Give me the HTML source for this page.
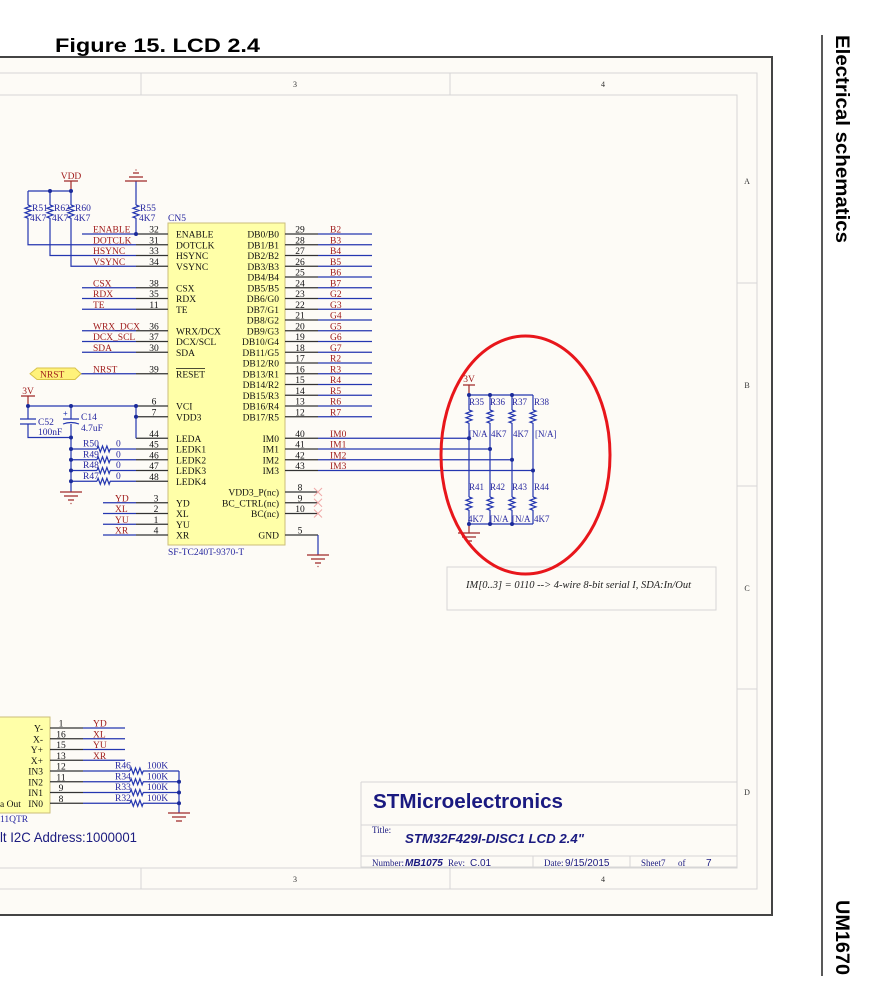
<!DOCTYPE html>
<html><head><meta charset="utf-8"><style>
html,body{margin:0;padding:0;background:#fff;}
svg{display:block;}
.w{stroke:#2436b0;stroke-width:1.2;fill:none;}
.p{stroke:#333;stroke-width:1.2;fill:none;}
.g{stroke:#a02828;stroke-width:1.2;fill:none;}
.z{stroke:#d6d6d6;stroke-width:1;fill:none;}
.t{font-family:"Liberation Serif",serif;font-size:9.5px;fill:#111;}
.n{font-family:"Liberation Serif",serif;font-size:9.5px;fill:#a01c1c;}
.b{font-family:"Liberation Serif",serif;font-size:9.5px;fill:#2828a0;}
.s{font-family:"Liberation Serif",serif;font-size:8px;fill:#333;}
</style></head><body>
<svg width="887" height="999" viewBox="0 0 887 999" xmlns="http://www.w3.org/2000/svg">
<rect x="0" y="0" width="887" height="999" fill="#fff"/>
<!-- header -->
<text x="55" y="52" font-family="Liberation Sans, sans-serif" font-weight="bold" font-size="19" textLength="205" lengthAdjust="spacingAndGlyphs">Figure 15. LCD 2.4</text>
<line x1="822" y1="35" x2="822" y2="976" stroke="#222" stroke-width="1.5"/>
<text transform="translate(836,35) rotate(90)" font-family="Liberation Sans, sans-serif" font-weight="bold" font-size="19" textLength="208" lengthAdjust="spacingAndGlyphs">Electrical schematics</text>
<text transform="translate(836,900) rotate(90)" font-family="Liberation Sans, sans-serif" font-weight="bold" font-size="19" textLength="75" lengthAdjust="spacingAndGlyphs">UM1670</text>

<!-- frame -->
<rect x="-5" y="57" width="777" height="858" fill="#fdfbf6" stroke="#444" stroke-width="2"/>
<path class="z" d="M0,73H757V889H0 M0,95H737V868H0 M141,73V95 M450,73V95 M141,868V889 M450,868V889 M737,283H757 M737,486H757 M737,689H757"/>
<text class="s" x="295" y="87" text-anchor="middle">3</text>
<text class="s" x="603" y="87" text-anchor="middle">4</text>
<text class="s" x="295" y="882" text-anchor="middle">3</text>
<text class="s" x="603" y="882" text-anchor="middle">4</text>
<text class="s" x="747" y="184" text-anchor="middle">A</text>
<text class="s" x="747" y="388" text-anchor="middle">B</text>
<text class="s" x="747" y="591" text-anchor="middle">C</text>
<text class="s" x="747" y="795" text-anchor="middle">D</text>

<!-- title block -->
<path class="z" d="M361,782H737 M361,782V867H737 M361,825H737 M361,856H737 M533,856V867 M630,856V867"/>
<text x="373" y="808" font-family="Liberation Sans, sans-serif" font-weight="bold" font-size="20" fill="#1a1a80" textLength="190" lengthAdjust="spacingAndGlyphs">STMicroelectronics</text>
<text x="372" y="833" font-family="Liberation Serif, serif" font-size="9" fill="#1a1a80">Title:</text>
<text x="405" y="843" font-family="Liberation Sans, sans-serif" font-weight="bold" font-style="italic" font-size="13" fill="#1a1a80" textLength="179" lengthAdjust="spacingAndGlyphs">STM32F429I-DISC1 LCD 2.4"</text>
<g font-size="9" fill="#1a1a80">
<text x="372" y="866" font-family="Liberation Serif, serif">Number:</text>
<text x="405" y="866" font-family="Liberation Sans, sans-serif" font-weight="bold" font-style="italic" font-size="10">MB1075</text>
<text x="448" y="866" font-family="Liberation Serif, serif">Rev:</text>
<text x="470" y="866" font-family="Liberation Sans, sans-serif" font-size="10">C.01</text>
<text x="544" y="866" font-family="Liberation Serif, serif">Date:</text>
<text x="565" y="866" font-family="Liberation Sans, sans-serif" font-size="10">9/15/2015</text>
<text x="641" y="866" font-family="Liberation Serif, serif">Sheet7</text>
<text x="678" y="866" font-family="Liberation Serif, serif">of</text>
<text x="706" y="866" font-family="Liberation Sans, sans-serif" font-size="10">7</text>
</g>

<!-- note box -->
<rect x="447" y="567" width="269" height="43" fill="none" stroke="#d6d6d6"/>
<text x="466" y="588" font-family="Liberation Serif, serif" font-style="italic" font-size="11" fill="#222" textLength="225" lengthAdjust="spacingAndGlyphs">IM[0..3] = 0110 --&gt; 4-wire 8-bit serial I, SDA:In/Out</text>

<!-- CN5 body -->
<rect x="168" y="223" width="117" height="322" fill="#ffffa8" stroke="#cbbd7a"/>
<text class="b" x="168" y="221">CN5</text>
<text class="b" x="168" y="555">SF-TC240T-9370-T</text>

<!-- left pin lines -->
<path class="p" d="M136,234H168 M136,244.75H168 M136,255.5H168 M136,266.25H168 M136,287.75H168 M136,298.5H168 M136,309.25H168 M136,330.75H168 M136,341.5H168 M136,352.25H168 M136,373.75H168 M136,406H168 M136,416.75H168 M136,438.25H168 M136,449H168 M136,459.75H168 M136,470.5H168 M136,481.25H168 M136,502.75H168 M136,513.5H168 M136,524.25H168 M136,535H168"/>
<!-- right pin lines -->
<path class="p" d="M285,234H318 M285,244.75H318 M285,255.5H318 M285,266.25H318 M285,277H318 M285,287.75H318 M285,298.5H318 M285,309.25H318 M285,320H318 M285,330.75H318 M285,341.5H318 M285,352.25H318 M285,363H318 M285,373.75H318 M285,384.5H318 M285,395.25H318 M285,406H318 M285,416.75H318 M285,438.25H318 M285,449H318 M285,459.75H318 M285,470.5H318 M285,492H318 M285,502.75H318 M285,513.5H318 M285,535H318"/>

<!-- left pin numbers -->
<g class="t" text-anchor="middle">
<text x="154" y="232.5">32</text><text x="154" y="243.25">31</text><text x="154" y="254">33</text><text x="154" y="264.75">34</text>
<text x="154" y="286.25">38</text><text x="154" y="297">35</text><text x="154" y="307.75">11</text>
<text x="154" y="329.25">36</text><text x="154" y="340">37</text><text x="154" y="350.75">30</text>
<text x="154" y="372.25">39</text>
<text x="154" y="404.5">6</text><text x="154" y="415.25">7</text>
<text x="154" y="436.75">44</text><text x="154" y="447.5">45</text><text x="154" y="458.25">46</text><text x="154" y="469">47</text><text x="154" y="479.75">48</text>
<text x="156" y="501.25">3</text><text x="156" y="512">2</text><text x="156" y="522.75">1</text><text x="156" y="533.5">4</text>
</g>
<!-- left pin names -->
<g class="t">
<text x="176" y="237.5">ENABLE</text><text x="176" y="248.25">DOTCLK</text><text x="176" y="259">HSYNC</text><text x="176" y="269.75">VSYNC</text>
<text x="176" y="291.25">CSX</text><text x="176" y="302">RDX</text><text x="176" y="312.75">TE</text>
<text x="176" y="334.25">WRX/DCX</text><text x="176" y="345">DCX/SCL</text><text x="176" y="355.75">SDA</text>
<text x="176" y="377.25">RESET</text>
<text x="176" y="409.5">VCI</text><text x="176" y="420.25">VDD3</text>
<text x="176" y="441.75">LEDA</text><text x="176" y="452.5">LEDK1</text><text x="176" y="463.25">LEDK2</text><text x="176" y="474">LEDK3</text><text x="176" y="484.75">LEDK4</text>
<text x="176" y="506.25">YD</text><text x="176" y="517">XL</text><text x="176" y="527.75">YU</text><text x="176" y="538.5">XR</text>
</g>
<line x1="176" y1="368.5" x2="205" y2="368.5" stroke="#111" stroke-width="0.8"/>
<!-- right pin names -->
<g class="t" text-anchor="end">
<text x="279" y="237.5">DB0/B0</text><text x="279" y="248.25">DB1/B1</text><text x="279" y="259">DB2/B2</text><text x="279" y="269.75">DB3/B3</text>
<text x="279" y="280.5">DB4/B4</text><text x="279" y="291.25">DB5/B5</text><text x="279" y="302">DB6/G0</text><text x="279" y="312.75">DB7/G1</text>
<text x="279" y="323.5">DB8/G2</text><text x="279" y="334.25">DB9/G3</text><text x="279" y="345">DB10/G4</text><text x="279" y="355.75">DB11/G5</text>
<text x="279" y="366.5">DB12/R0</text><text x="279" y="377.25">DB13/R1</text><text x="279" y="388">DB14/R2</text><text x="279" y="398.75">DB15/R3</text>
<text x="279" y="409.5">DB16/R4</text><text x="279" y="420.25">DB17/R5</text>
<text x="279" y="441.75">IM0</text><text x="279" y="452.5">IM1</text><text x="279" y="463.25">IM2</text><text x="279" y="474">IM3</text>
<text x="279" y="495.5">VDD3_P(nc)</text><text x="279" y="506.25">BC_CTRL(nc)</text><text x="279" y="517">BC(nc)</text>
<text x="279" y="538.5">GND</text>
</g>
<!-- right pin numbers -->
<g class="t" text-anchor="middle">
<text x="300" y="232.5">29</text><text x="300" y="243.25">28</text><text x="300" y="254">27</text><text x="300" y="264.75">26</text>
<text x="300" y="275.5">25</text><text x="300" y="286.25">24</text><text x="300" y="297">23</text><text x="300" y="307.75">22</text>
<text x="300" y="318.5">21</text><text x="300" y="329.25">20</text><text x="300" y="340">19</text><text x="300" y="350.75">18</text>
<text x="300" y="361.5">17</text><text x="300" y="372.25">16</text><text x="300" y="383">15</text><text x="300" y="393.75">14</text>
<text x="300" y="404.5">13</text><text x="300" y="415.25">12</text>
<text x="300" y="436.75">40</text><text x="300" y="447.5">41</text><text x="300" y="458.25">42</text><text x="300" y="469">43</text>
<text x="300" y="490.5">8</text><text x="300" y="501.25">9</text><text x="300" y="512">10</text>
<text x="300" y="533.5">5</text>
</g>
<!-- right net labels -->
<g class="n">
<text x="330" y="232.5">B2</text><text x="330" y="243.25">B3</text><text x="330" y="254">B4</text><text x="330" y="264.75">B5</text>
<text x="330" y="275.5">B6</text><text x="330" y="286.25">B7</text><text x="330" y="297">G2</text><text x="330" y="307.75">G3</text>
<text x="330" y="318.5">G4</text><text x="330" y="329.25">G5</text><text x="330" y="340">G6</text><text x="330" y="350.75">G7</text>
<text x="330" y="361.5">R2</text><text x="330" y="372.25">R3</text><text x="330" y="383">R4</text><text x="330" y="393.75">R5</text>
<text x="330" y="404.5">R6</text><text x="330" y="415.25">R7</text>
<text x="330" y="436.75">IM0</text><text x="330" y="447.5">IM1</text><text x="330" y="458.25">IM2</text><text x="330" y="469">IM3</text>
</g>
<!-- left net labels -->
<g class="n">
<text x="93" y="232.5">ENABLE</text><text x="93" y="243.25">DOTCLK</text><text x="93" y="254">HSYNC</text><text x="93" y="264.75">VSYNC</text>
<text x="93" y="286.25">CSX</text><text x="93" y="297">RDX</text><text x="93" y="307.75">TE</text>
<text x="93" y="329.25">WRX_DCX</text><text x="93" y="340">DCX_SCL</text><text x="93" y="350.75">SDA</text>
<text x="93" y="372.25">NRST</text>
<text x="115" y="501.25">YD</text><text x="115" y="512">XL</text><text x="115" y="522.75">YU</text><text x="115" y="533.5">XR</text>
</g>

<!-- right wires -->
<path class="w" d="M318,234H372 M318,244.75H372 M318,255.5H372 M318,266.25H372 M318,277H372 M318,287.75H372 M318,298.5H372 M318,309.25H372 M318,320H372 M318,330.75H372 M318,341.5H372 M318,352.25H372 M318,363H372 M318,373.75H372 M318,384.5H372 M318,395.25H372 M318,406H372 M318,416.75H372
M318,438.25H469 M318,449H490 M318,459.75H512 M318,470.5H533 M318,535V555"/>
<!-- nc marks -->
<path d="M314,488L322,496M322,488L314,496 M314,498.75L322,506.75M322,498.75L314,506.75 M314,509.5L322,517.5M322,509.5L314,517.5" stroke="#f0a8a8" stroke-width="1"/>

<!-- left wires -->
<path class="w" d="M28,191H71 M28,191V205 M50,191V205 M71,191V205 M28,218V244.75H136 M50,218V255.5H136 M71,218V266.25H136 M136,181V205 M136,218V234
M82,234H136 M82,287.75H136 M82,298.5H136 M82,309.25H136 M82,330.75H136 M82,341.5H136 M82,352.25H136 M80,373.75H136
M28,406H136 M28,406V419 M28,424V437.5H71 M71,406V419 M71,424V492 M136,406V438.25
M71,449H97 M110,449H136 M71,459.75H97 M110,459.75H136 M71,470.5H97 M110,470.5H136 M71,481.25H97 M110,481.25H136
M103,502.75H136 M103,513.5H136 M103,524.25H136 M103,535H136"/>
<!-- vertical resistors top-left -->
<path class="w" d="M28,205l3,1.1l-6,2.2l6,2.2l-6,2.2l6,2.2l-6,2.2l3,1.1 M50,205l3,1.1l-6,2.2l6,2.2l-6,2.2l6,2.2l-6,2.2l3,1.1 M71,205l3,1.1l-6,2.2l6,2.2l-6,2.2l6,2.2l-6,2.2l3,1.1 M136,205l3,1.1l-6,2.2l6,2.2l-6,2.2l6,2.2l-6,2.2l3,1.1"/>
<!-- horizontal resistors LEDK -->
<path class="w" d="M97,449l1.1,-3l2.2,6l2.2,-6l2.2,6l2.2,-6l2.2,6l1.1,-3 M97,459.75l1.1,-3l2.2,6l2.2,-6l2.2,6l2.2,-6l2.2,6l1.1,-3 M97,470.5l1.1,-3l2.2,6l2.2,-6l2.2,6l2.2,-6l2.2,6l1.1,-3 M97,481.25l1.1,-3l2.2,6l2.2,-6l2.2,6l2.2,-6l2.2,6l1.1,-3"/>
<!-- capacitors -->
<path class="w" d="M20,419H36 M20,424H36 M63,419H79 M63,424Q71,421 79,424" stroke-width="1.6"/>
<text x="63" y="416" font-family="Liberation Sans, sans-serif" font-size="8" fill="#2436b0">+</text>
<!-- power symbols -->
<path class="g" d="M64,181H78 M71,181V191 M21,396H35 M28,396V406 M125,181H147 M129,177H143 M133,173H139 M135.5,170H136.5"/>
<text x="71" y="179" text-anchor="middle" class="n">VDD</text>
<text x="28" y="394" text-anchor="middle" class="n">3V</text>
<!-- NRST port -->
<path d="M30,373.75L37,368H75L81,373.75L75,379.5H37Z" fill="#fff27a" stroke="#d8c24a" stroke-width="1"/>
<text x="40" y="377.5" class="n">NRST</text>
<!-- grounds -->
<path class="g" d="M60,492H82 M64,496H78 M68,500H74 M70.5,503.5H71.5 M307,555H329 M311,559H325 M315,563H321 M317.5,566.5H318.5"/>
<!-- left labels -->
<g class="b">
<text x="32" y="211">R51</text><text x="30" y="221">4K7</text>
<text x="54" y="211">R62</text><text x="52" y="221">4K7</text>
<text x="75" y="211">R60</text><text x="74" y="221">4K7</text>
<text x="140" y="211">R55</text><text x="139" y="221">4K7</text>
<text x="38" y="425">C52</text><text x="38" y="435">100nF</text>
<text x="81" y="420">C14</text><text x="81" y="431">4.7uF</text>
<text x="83" y="446.5">R50</text><text x="116" y="446.5">0</text>
<text x="83" y="457.25">R49</text><text x="116" y="457.25">0</text>
<text x="83" y="468">R48</text><text x="116" y="468">0</text>
<text x="83" y="478.75">R47</text><text x="116" y="478.75">0</text>
</g>
<!-- junctions left -->
<g fill="#1a2a9a">
<circle cx="50" cy="191" r="2"/><circle cx="71" cy="191" r="2"/><circle cx="136" cy="234" r="2"/>
<circle cx="28" cy="406" r="2"/><circle cx="71" cy="406" r="2"/><circle cx="136" cy="406" r="2"/><circle cx="136" cy="416.75" r="2"/>
<circle cx="71" cy="437.5" r="2"/><circle cx="71" cy="449" r="2"/><circle cx="71" cy="459.75" r="2"/><circle cx="71" cy="470.5" r="2"/><circle cx="71" cy="481.25" r="2"/>
</g>

<!-- IM strap resistors -->
<path class="g" d="M463,385H475 M469,385V395"/>
<text x="469" y="382" text-anchor="middle" class="n">3V</text>
<path class="w" d="M469,395H533 M469,524H533
M469,395V410 M469,423V497 M469,510V524
M490,395V410 M490,423V497 M490,510V524
M512,395V410 M512,423V497 M512,510V524
M533,395V410 M533,423V497 M533,510V524"/>
<path class="w" d="M469,410l3,1.1l-6,2.2l6,2.2l-6,2.2l6,2.2l-6,2.2l3,1.1 M490,410l3,1.1l-6,2.2l6,2.2l-6,2.2l6,2.2l-6,2.2l3,1.1 M512,410l3,1.1l-6,2.2l6,2.2l-6,2.2l6,2.2l-6,2.2l3,1.1 M533,410l3,1.1l-6,2.2l6,2.2l-6,2.2l6,2.2l-6,2.2l3,1.1
M469,497l3,1.1l-6,2.2l6,2.2l-6,2.2l6,2.2l-6,2.2l3,1.1 M490,497l3,1.1l-6,2.2l6,2.2l-6,2.2l6,2.2l-6,2.2l3,1.1 M512,497l3,1.1l-6,2.2l6,2.2l-6,2.2l6,2.2l-6,2.2l3,1.1 M533,497l3,1.1l-6,2.2l6,2.2l-6,2.2l6,2.2l-6,2.2l3,1.1"/>
<path class="g" d="M469,524V533 M458,533H480 M462,537H476 M466,541H472"/>
<g fill="#1a2a9a">
<circle cx="469" cy="395" r="2"/><circle cx="490" cy="395" r="2"/><circle cx="512" cy="395" r="2"/>
<circle cx="469" cy="438.25" r="2"/><circle cx="490" cy="449" r="2"/><circle cx="512" cy="459.75" r="2"/><circle cx="533" cy="470.5" r="2"/>
<circle cx="469" cy="524" r="2"/><circle cx="490" cy="524" r="2"/><circle cx="512" cy="524" r="2"/>
</g>
<g class="b" font-size="9">
<text x="469" y="405" font-size="9">R35</text><text x="490" y="405" font-size="9">R36</text><text x="512" y="405" font-size="9">R37</text><text x="534" y="405" font-size="9">R38</text>
<text x="469" y="437" font-size="9">[N/A</text><text x="491" y="437" font-size="9">4K7</text><text x="513" y="437" font-size="9">4K7</text><text x="535" y="437" font-size="9">[N/A]</text>
<text x="469" y="490" font-size="9">R41</text><text x="490" y="490" font-size="9">R42</text><text x="512" y="490" font-size="9">R43</text><text x="534" y="490" font-size="9">R44</text>
<text x="468" y="522" font-size="9">4K7</text><text x="490" y="522" font-size="9">[N/A</text><text x="512" y="522" font-size="9">[N/A</text><text x="534" y="522" font-size="9">4K7</text>
</g>
<ellipse cx="525.5" cy="455" rx="84.5" ry="119" fill="none" stroke="#e8161b" stroke-width="3"/>

<!-- bottom-left component -->
<rect x="-5" y="717" width="55" height="96" fill="#ffffa8" stroke="#cbbd7a"/>
<path class="p" d="M50,728H83 M50,738.75H83 M50,749.5H83 M50,760.25H83 M50,771H83 M50,781.75H83 M50,792.5H83 M50,803.25H83"/>
<path class="w" d="M83,728H125 M83,738.75H125 M83,749.5H125 M83,760.25H125
M83,771H130 M143,771H179 M83,781.75H130 M143,781.75H179 M83,792.5H130 M143,792.5H179 M83,803.25H130 M143,803.25H179 M179,771V813
M130,771l1.1,-3l2.2,6l2.2,-6l2.2,6l2.2,-6l2.2,6l1.1,-3 M130,781.75l1.1,-3l2.2,6l2.2,-6l2.2,6l2.2,-6l2.2,6l1.1,-3 M130,792.5l1.1,-3l2.2,6l2.2,-6l2.2,6l2.2,-6l2.2,6l1.1,-3 M130,803.25l1.1,-3l2.2,6l2.2,-6l2.2,6l2.2,-6l2.2,6l1.1,-3"/>
<path class="g" d="M168,813H190 M172,817H186 M176,821H182"/>
<g fill="#1a2a9a"><circle cx="179" cy="781.75" r="2"/><circle cx="179" cy="792.5" r="2"/><circle cx="179" cy="803.25" r="2"/></g>
<g class="t" text-anchor="end">
<text x="43" y="731.5">Y-</text><text x="43" y="742.25">X-</text><text x="43" y="753">Y+</text><text x="43" y="763.75">X+</text>
<text x="43" y="774.5">IN3</text><text x="43" y="785.25">IN2</text><text x="43" y="796">IN1</text><text x="43" y="806.75">IN0</text>
</g>
<text class="t" x="0" y="806.75">a Out</text>
<g class="t" text-anchor="middle">
<text x="61" y="726.5">1</text><text x="61" y="737.25">16</text><text x="61" y="748">15</text><text x="61" y="758.75">13</text>
<text x="61" y="769.5">12</text><text x="61" y="780.25">11</text><text x="61" y="791">9</text><text x="61" y="801.75">8</text>
</g>
<g class="n">
<text x="93" y="726.5">YD</text><text x="93" y="737.25">XL</text><text x="93" y="748">YU</text><text x="93" y="758.75">XR</text>
</g>
<g class="b">
<text x="115" y="768.5">R46</text><text x="147" y="768.5">100K</text>
<text x="115" y="779.25">R34</text><text x="147" y="779.25">100K</text>
<text x="115" y="790">R33</text><text x="147" y="790">100K</text>
<text x="115" y="800.75">R32</text><text x="147" y="800.75">100K</text>
<text x="0" y="822">11QTR</text>
</g>
<text x="0" y="842" font-family="Liberation Sans, sans-serif" font-size="14" fill="#1c1c80" textLength="137" lengthAdjust="spacingAndGlyphs">lt I2C Address:1000001</text>
</svg>
</body></html>
